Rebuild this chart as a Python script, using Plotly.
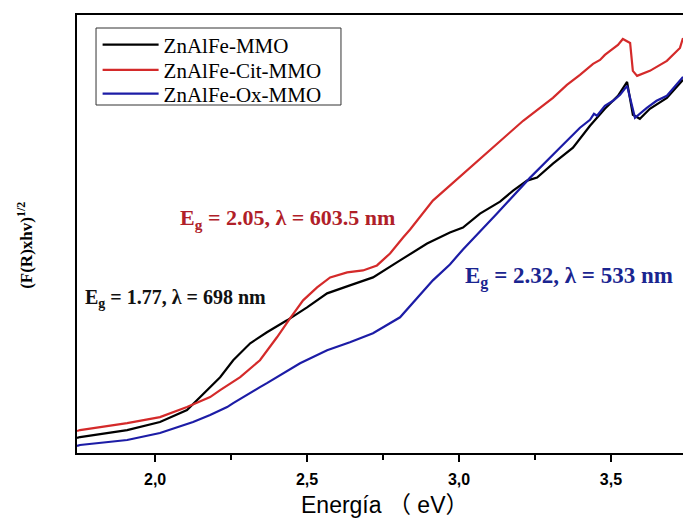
import plotly.graph_objects as go

# ---- data ----
energy_black = [1.743, 1.753, 1.908, 2.016, 2.105, 2.148, 2.214, 2.257, 2.313, 2.368, 2.434, 2.500,
                2.566, 2.641, 2.717, 2.806, 2.895, 2.970, 3.013, 3.069, 3.135, 3.178, 3.224, 3.257,
                3.309, 3.375, 3.431, 3.480, 3.523, 3.553, 3.572, 3.595, 3.628, 3.684, 3.737]
y_black = [14, 15, 22, 30, 42, 55, 75, 92, 109, 120, 132, 145,
           159, 167, 175, 192, 209, 220, 225, 239, 251, 262, 272, 275,
           289, 305, 327, 344, 357, 371, 338, 334, 344, 355, 373]

energy_red = [1.743, 1.753, 1.908, 2.016, 2.105, 2.181, 2.214, 2.280, 2.345, 2.401, 2.444, 2.487,
              2.533, 2.576, 2.632, 2.684, 2.730, 2.773, 2.816, 2.839, 2.914, 3.013, 3.112, 3.211,
              3.309, 3.355, 3.398, 3.441, 3.464, 3.480, 3.497, 3.523, 3.539, 3.563, 3.572, 3.586,
              3.628, 3.684, 3.727, 3.737]
y_red = [21, 22, 29, 35, 45, 55, 62, 75, 92, 115, 134, 152,
         165, 175, 180, 182, 187, 199, 215, 223, 252, 279, 305, 332,
         355, 368, 378, 389, 393, 398, 402, 408, 414, 410, 382, 377,
         382, 392, 405, 415]

energy_blue = [1.743, 1.753, 1.908, 2.016, 2.125, 2.181, 2.237, 2.257, 2.345, 2.368, 2.477, 2.566,
               2.641, 2.717, 2.806, 2.895, 2.914, 2.970, 3.013, 3.125, 3.234, 3.332, 3.398, 3.431,
               3.444, 3.454, 3.480, 3.507, 3.530, 3.553, 3.579, 3.618, 3.650, 3.684, 3.727, 3.737]
y_blue = [6, 7, 12, 19, 30, 37, 45, 49, 65, 69, 89, 102,
          110, 119, 135, 165, 172, 188, 203, 239, 275, 305, 325, 333,
          339, 337, 347, 352, 358, 367, 335, 345, 352, 357, 372, 376]

series_names = ["ZnAlFe-MMO", "ZnAlFe-Cit-MMO", "ZnAlFe-Ox-MMO"]
series_colors = ["#000000", "#d42a2a", "#1c1ca6"]

tick_vals = [2.0, 2.5, 3.0, 3.5]
tick_text = ["<b>2,0</b>", "<b>2,5</b>", "<b>3,0</b>", "<b>3,5</b>"]
minor_vals = [2.25, 2.75, 3.25]

labels = ["E<sub>g</sub> = 1.77, λ = 698 nm",
          "E<sub>g</sub> = 2.05, λ = 603.5 nm",
          "E<sub>g</sub> = 2.32, λ = 533 nm"]
label_x = [1.763, 2.076, 3.013]
label_y = [154, 234, 175]
label_colors = ["#111111", "#b02028", "#1a2590"]
label_sizes = [20, 22, 23]

legend_ids = ["legend", "legend2", "legend3"]
legend_y = [0.9315, 0.874, 0.8196]

fig = go.Figure()
for ex, ey, name, col, lid in zip([energy_black, energy_red, energy_blue],
                                  [y_black, y_red, y_blue], series_names, series_colors,
                                  legend_ids):
    fig.add_trace(go.Scatter(x=ex, y=ey, mode="lines", name=name, legend=lid,
                             line=dict(color=col, width=2.2)))

for t, lx, ly, c, s in zip(labels, label_x, label_y, label_colors, label_sizes):
    fig.add_annotation(x=lx, y=ly, xref="x", yref="y", text="<b>" + t + "</b>",
                       showarrow=False, xanchor="left", yanchor="middle",
                       font=dict(family="Liberation Serif", size=s, color=c))

fig.add_annotation(x=-0.086, y=0.475, xref="paper", yref="paper",
                   xanchor="center", yanchor="middle",
                   text="<b>(F(R)xhv)<sup>1/2</sup></b>", textangle=-90, showarrow=False,
                   font=dict(family="Liberation Serif", size=17, color="#000000"))
fig.add_annotation(x=0.507, y=-0.118, xref="paper", yref="paper",
                   xanchor="center", yanchor="middle",
                   text="Energía （ eV）", showarrow=False,
                   font=dict(family="Liberation Sans, Noto Sans CJK SC", size=23, color="#000000"))

# legend frame
fig.add_shape(type="rect", xref="paper", yref="paper",
              x0=0.0314, x1=0.4356, y0=0.7945, y1=0.9703,
              line=dict(color="#333333", width=1), fillcolor="white", layer="below")

legend_common = dict(x=0.034, xanchor="left", yanchor="middle",
                     bgcolor="rgba(0,0,0,0)", borderwidth=0,
                     font=dict(family="Liberation Serif", size=21, color="#000000"),
                     itemwidth=56)

fig.update_layout(
    width=683, height=519,
    margin=dict(l=77, r=0, t=15, b=66),
    paper_bgcolor="white", plot_bgcolor="white",
    showlegend=True,
    legend=dict(y=legend_y[0], **legend_common),
    legend2=dict(y=legend_y[1], **legend_common),
    legend3=dict(y=legend_y[2], **legend_common),
    xaxis=dict(range=[1.743, 3.737], showgrid=False, zeroline=False,
               showline=True, linecolor="#000000", linewidth=2, mirror=True,
               ticks="outside", ticklen=7, tickwidth=2, tickcolor="#000000",
               tickvals=tick_vals, ticktext=tick_text, ticklabelstandoff=4,
               tickfont=dict(family="Liberation Sans", size=16, color="#000000"),
               minor=dict(ticks="outside", ticklen=5, tickwidth=2, tickcolor="#000000",
                          tickvals=minor_vals)),
    yaxis=dict(range=[-1, 438], showgrid=False, zeroline=False,
               showline=True, linecolor="#000000", linewidth=2, mirror=False,
               showticklabels=False, ticks=""),
)

fig.write_html("out.html")
